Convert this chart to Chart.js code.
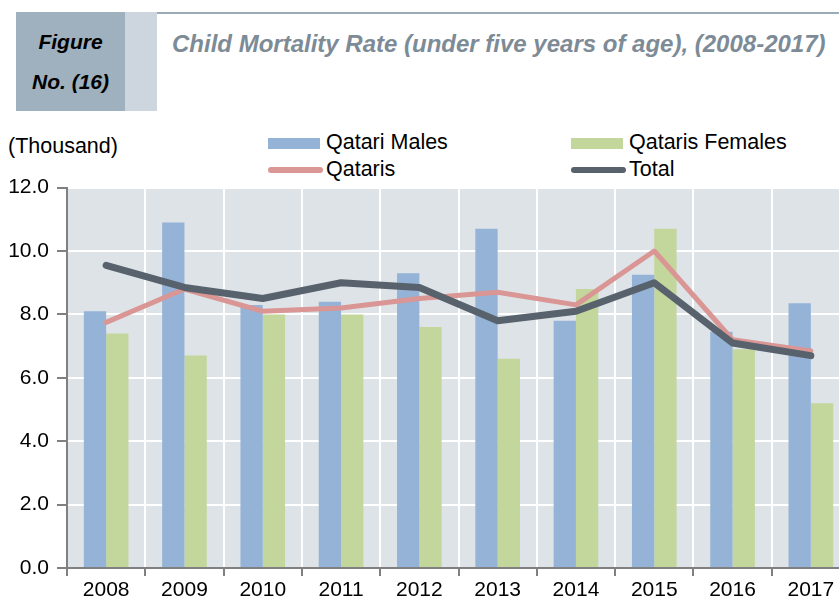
<!DOCTYPE html>
<html>
<head>
<meta charset="utf-8">
<script src="https://cdn.jsdelivr.net/npm/chart.js@4/dist/chart.umd.min.js"></script>
<style>
  html, body { margin: 0; padding: 0; background: #fff; overflow: hidden; }
  body { width: 839px; height: 600px; position: relative; font-family: "Liberation Sans", Arial, sans-serif; }
  .abs { position: absolute; }
  #dark { left: 16px; top: 12px; width: 109px; height: 99px; background: #9fb0be; }
  #light { left: 125px; top: 12px; width: 32px; height: 99px; background: #cdd6df; }
  #rule { left: 157px; top: 12px; width: 682px; height: 2px; background: #9aabb8; }
  .fig { width: 109px; left: 16px; text-align: center; font: italic bold 21px "Liberation Sans", Arial, sans-serif; color: #000; }
  #title { left: 172px; top: 30px; font: italic bold 24px "Liberation Sans", Arial, sans-serif; color: #7d8b97; white-space: nowrap; }
  #unit { left: 8px; top: 134px; font-size: 21.5px; color: #000; }
  .leg { font-size: 21.5px; color: #000; white-space: nowrap; }
  .sw { position: absolute; }
  #wrap { left: 0; top: 167px; width: 839px; height: 433px; overflow: hidden; }
  #wrap canvas { position: absolute; left: 0; top: 0; }
</style>
</head>
<body>
<div class="abs" id="dark"></div>
<div class="abs" id="light"></div>
<div class="abs" id="rule"></div>
<div class="abs fig" style="top:30px">Figure</div>
<div class="abs fig" style="top:70px">No. (16)</div>
<div class="abs" id="title">Child Mortality Rate (under five years of age), (2008-2017)</div>
<div class="abs" id="unit">(Thousand)</div>
<div id="legend"></div>
<div class="abs" id="wrap"><canvas id="chart" width="850" height="433" style="width:850px;height:433px"></canvas></div>
<script>
'use strict';

var years = ['2008', '2009', '2010', '2011', '2012', '2013', '2014', '2015', '2016', '2017'];
var qatariMales = [8.1, 10.9, 8.3, 8.4, 9.3, 10.7, 7.8, 9.25, 7.45, 8.35];
var qatariFemales = [7.4, 6.7, 8.0, 8.0, 7.6, 6.6, 8.8, 10.7, 6.9, 5.2];
var qataris = [7.75, 8.8, 8.1, 8.2, 8.5, 8.7, 8.3, 10.0, 7.2, 6.85];
var total = [9.55, 8.85, 8.5, 9.0, 8.85, 7.8, 8.1, 9.0, 7.1, 6.7];
var yTicks = [0, 2, 4, 6, 8, 10, 12];

var blue = '#95b3d7';
var green = '#c3d69b';
var pink = '#d99694';
var slate = '#58626d';

// legend (html)
var legendItems = [
  { label: 'Qatari Males', color: blue, line: false, x: 268, y: 143 },
  { label: 'Qataris Females', color: green, line: false, x: 571, y: 143 },
  { label: 'Qataris', color: pink, line: true, x: 268, y: 170 },
  { label: 'Total', color: slate, line: true, x: 571, y: 170 }
];
var legendEl = document.getElementById('legend');
legendItems.forEach(function (it) {
  var sw = document.createElement('div');
  sw.className = 'sw';
  sw.style.left = it.x + 'px';
  sw.style.width = (it.line ? 55 : 52) + 'px';
  sw.style.background = it.color;
  if (it.line) {
    sw.style.top = (it.y - 3) + 'px';
    sw.style.height = '6px';
    sw.style.borderRadius = '3px';
  } else {
    sw.style.top = (it.y - 5) + 'px';
    sw.style.height = '11px';
  }
  legendEl.appendChild(sw);
  var tx = document.createElement('div');
  tx.className = 'abs leg';
  tx.style.left = (it.x + 58) + 'px';
  tx.style.top = (it.y - 13) + 'px';
  tx.textContent = it.label;
  legendEl.appendChild(tx);
});

var plotBg = {
  id: 'plotBg',
  beforeDraw: function (chart) {
    var a = chart.chartArea;
    var c = chart.ctx;
    c.save();
    c.fillStyle = '#dee3e8';
    c.fillRect(a.left, a.top, a.right - a.left, a.bottom - a.top);
    c.restore();
  }
};

var ctx = document.getElementById('chart');
new Chart(ctx, {
  type: 'bar',
  data: {
    labels: years,
    datasets: [{
      type: 'line',
      label: 'Total',
      data: total,
      borderColor: slate,
      borderWidth: 7,
      pointRadius: 0,
      borderCapStyle: 'round',
      borderJoinStyle: 'round',
      order: 0
    }, {
      type: 'line',
      label: 'Qataris',
      data: qataris,
      borderColor: pink,
      borderWidth: 5,
      pointRadius: 0,
      borderCapStyle: 'round',
      borderJoinStyle: 'round',
      order: 1
    }, {
      label: 'Qatari Males',
      data: qatariMales,
      backgroundColor: blue,
      categoryPercentage: 0.57,
      barPercentage: 1.0,
      order: 2
    }, {
      label: 'Qataris Females',
      data: qatariFemales,
      backgroundColor: green,
      categoryPercentage: 0.57,
      barPercentage: 1.0,
      order: 2
    }]
  },
  options: {
    responsive: false,
    animation: false,
    layout: { padding: { top: 7, left: 0, right: 0, bottom: 0 } },
    plugins: {
      legend: { display: false },
      tooltip: { enabled: false }
    },
    scales: {
      x: {
        offset: true,
        afterFit: function (s) { s.height = 32; },
        grid: { display: true, offset: true, color: '#ffffff', lineWidth: 2, tickColor: '#808080', tickLength: 8 },
        border: { display: true, color: '#808080', width: 2 },
        ticks: { color: '#000', font: { family: 'Liberation Sans', size: 21 }, padding: 2, maxRotation: 0 }
      },
      y: {
        min: 0,
        max: 12,
        afterFit: function (s) { s.width = 67; },
        afterBuildTicks: function (s) { s.ticks = yTicks.map(function (v) { return { value: v }; }); },
        grid: { color: '#ffffff', lineWidth: 2, tickColor: '#808080', tickLength: 10 },
        border: { display: true, color: '#808080', width: 2 },
        ticks: {
          color: '#000',
          font: { family: 'Liberation Sans', size: 21 },
          padding: 8,
          callback: function (v) { return v.toFixed(1); }
        }
      }
    }
  },
  plugins: [plotBg]
});
</script>
</body>
</html>
